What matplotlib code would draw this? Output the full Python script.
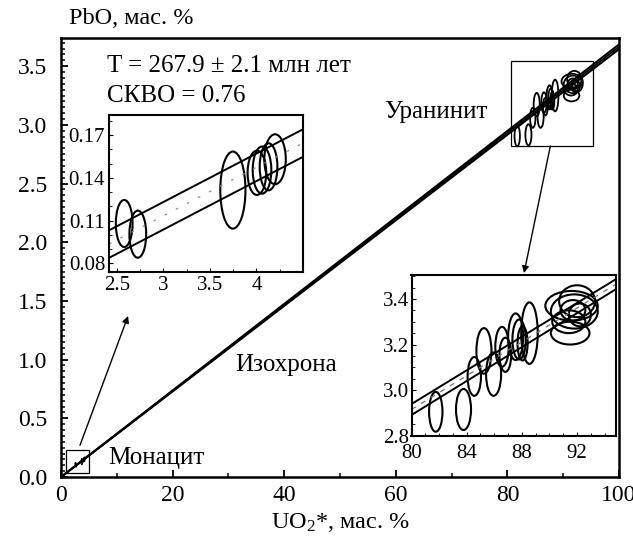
import matplotlib
matplotlib.use("Agg")
import matplotlib.pyplot as plt
from matplotlib.patches import Ellipse, Rectangle
from matplotlib.ticker import MultipleLocator, FormatStrFormatter

plt.rcParams['font.family'] = ['Liberation Serif', 'DejaVu Serif']
plt.rcParams['mathtext.fontset'] = 'custom'
plt.rcParams['mathtext.rm'] = 'Liberation Serif'
plt.rcParams['mathtext.it'] = 'Liberation Serif:italic'

# ---- data ----
# isochron (main plot) : x endpoints, center / envelope values
iso_x = [0, 100]
iso_center = [0.0, 3.665]
iso_upper = [0.0, 3.685]
iso_lower = [0.0, 3.645]

# monazite analyses (ellipse centers and sizes)
mon_x = [2.58, 2.726, 3.747, 4.005, 4.06, 4.13, 4.20]
mon_y = [0.108, 0.1005, 0.1314, 0.1435, 0.1454, 0.1477, 0.153]
mon_w = [0.18, 0.18, 0.27, 0.20, 0.20, 0.19, 0.23]
mon_h = [0.033, 0.033, 0.054, 0.031, 0.033, 0.033, 0.035]
# monazite inset envelope lines
mon_env_x = [2.42, 4.5]
mon_env_upper = [0.1033, 0.174]
mon_env_lower = [0.084, 0.1547]

# uraninite analyses
ura_x = [81.76, 83.77, 84.55, 85.25, 85.95, 86.56, 86.8, 87.55, 87.8, 88.05, 88.55,
         91.5, 91.6, 91.8, 91.4, 92.0, 91.7, 92.2]
ura_y = [2.905, 2.915, 3.06, 3.172, 3.07, 3.19, 3.155, 3.234, 3.222, 3.205, 3.25,
         3.25, 3.37, 3.345, 3.30, 3.39, 3.35, 3.33]
ura_w = [0.97, 1.09, 0.97, 1.09, 1.09, 0.97, 0.85, 1.09, 0.97, 0.73, 1.2,
         2.8, 3.8, 3.4, 2.4, 2.6, 1.8, 1.6]
ura_h = [0.175, 0.18, 0.17, 0.2, 0.19, 0.175, 0.15, 0.205, 0.175, 0.15, 0.27,
         0.10, 0.13, 0.15, 0.10, 0.14, 0.09, 0.10]
# uraninite inset envelope lines
ura_env_x = [80, 94.8]
ura_env_upper = [2.939, 3.486]
ura_env_lower = [2.891, 3.442]

W, H = 633, 538
fig = plt.figure(figsize=(W / 100, H / 100), dpi=100)

def fr(l, t, r, b):
    return [l / W, 1 - b / H, (r - l) / W, (b - t) / H]

ax = fig.add_axes(fr(61, 38, 619, 477))
ax.set_xlim(0, 100)
ax.set_ylim(0, 3.74)
for s in ax.spines.values():
    s.set_linewidth(1.8)
ax.plot(iso_x, iso_upper, color='black', lw=1.5)
ax.plot(iso_x, iso_lower, color='black', lw=1.5)
ax.plot(iso_x, iso_center, color='black', lw=1.2)
for x, y, w, h in zip(ura_x, ura_y, ura_w, ura_h):
    ax.add_patch(Ellipse((x, y), w, h, fill=False, ec='black', lw=1.3))
for x, y, w, h in zip(mon_x, mon_y, mon_w, mon_h):
    ax.add_patch(Ellipse((x, y), w, h, fill=False, ec='black', lw=0.7))
# zoom boxes
ax.add_patch(Rectangle((0.9, 0.03), 4.2, 0.2, fill=False, ec='black', lw=0.9))
ax.add_patch(Rectangle((80.6, 2.82), 14.7, 0.72, fill=False, ec='black', lw=0.9))

ax.xaxis.set_major_locator(MultipleLocator(20))
ax.xaxis.set_minor_locator(MultipleLocator(10))
ax.yaxis.set_major_locator(MultipleLocator(0.5))
ax.yaxis.set_minor_locator(MultipleLocator(0.05))
ax.yaxis.set_major_formatter(FormatStrFormatter('%.1f'))
ax.tick_params(which='both', direction='in', top=False, right=False, labelsize=17)
ax.tick_params(axis='y', pad=10)
ax.tick_params(axis='x', pad=6)
ax.tick_params(which='major', length=5, width=1.3)
ax.tick_params(which='minor', length=3, width=1.1)
ax.set_xlabel('UO$_2$*, мас. %', fontsize=17.5, labelpad=3)
fig.text(69 / W, 1 - 19 / H, 'PbO, мас. %', fontsize=17.5, va='center', ha='left')

ax.text(8.25, 3.50, 'T = 267.9 ± 2.1 млн лет', fontsize=18, va='center')
ax.text(8.25, 3.25, 'СКВО = 0.76', fontsize=18, va='center')
ax.text(58.0, 3.11, 'Уранинит', fontsize=18, va='center')
ax.text(31.2, 0.95, 'Изохрона', fontsize=18, va='center')
ax.text(8.4, 0.16, 'Монацит', fontsize=18, va='center')

# ---- monazite inset ----
a1 = fig.add_axes(fr(109.3, 115, 303, 272))
a1.set_xlim(2.42, 4.5)
a1.set_ylim(0.074, 0.184)
a1.plot(mon_env_x, mon_env_upper, color='black', lw=1.4)
a1.plot(mon_env_x, mon_env_lower, color='black', lw=1.4)
a1.plot(mon_env_x, [(u + l) / 2 for u, l in zip(mon_env_upper, mon_env_lower)],
        color='0.55', lw=0.9, dashes=(2, 8))
for x, y, w, h in zip(mon_x, mon_y, mon_w, mon_h):
    a1.add_patch(Ellipse((x, y), w, h, fill=False, ec='black', lw=1.5))
a1.set_xticks([2.5, 3, 3.5, 4])
a1.set_xticklabels(['2.5', '3', '3.5', '4'])
a1.xaxis.set_minor_locator(MultipleLocator(0.25))
a1.set_yticks([0.08, 0.11, 0.14, 0.17])
a1.yaxis.set_major_formatter(FormatStrFormatter('%.2f'))
a1.yaxis.set_minor_locator(MultipleLocator(0.01))
a1.tick_params(which='both', direction='in', labelsize=15, pad=3)
a1.tick_params(which='major', length=3)
a1.tick_params(which='minor', length=2)
for s in a1.spines.values():
    s.set_linewidth(1.5)

# ---- uraninite inset ----
a2 = fig.add_axes(fr(411.5, 275, 615.7, 435.7))
a2.set_xlim(80, 94.8)
a2.set_ylim(2.8, 3.505)
a2.plot(ura_env_x, ura_env_upper, color='black', lw=1.4)
a2.plot(ura_env_x, ura_env_lower, color='black', lw=1.4)
a2.plot(ura_env_x, [(u + l) / 2 for u, l in zip(ura_env_upper, ura_env_lower)],
        color='0.45', lw=0.9, dashes=(4, 5))
for x, y, w, h in zip(ura_x, ura_y, ura_w, ura_h):
    a2.add_patch(Ellipse((x, y), w, h, fill=False, ec='black', lw=1.5))
a2.xaxis.set_major_locator(MultipleLocator(4))
a2.xaxis.set_minor_locator(MultipleLocator(1))
a2.yaxis.set_major_locator(MultipleLocator(0.2))
a2.yaxis.set_minor_locator(MultipleLocator(0.05))
a2.yaxis.set_major_formatter(FormatStrFormatter('%.1f'))
a2.tick_params(which='both', direction='in', labelsize=15)
a2.tick_params(axis='x', pad=6)
a2.tick_params(axis='y', pad=2)
a2.tick_params(which='major', length=3)
a2.tick_params(which='minor', length=2)
for s in a2.spines.values():
    s.set_linewidth(1.5)

# ---- arrows ----
arr = dict(arrowstyle='-|>', color='black', lw=1.0, mutation_scale=10, shrinkA=0, shrinkB=0)
ax.annotate('', xy=(0.097, -0.28), xycoords=a1.transAxes,
            xytext=(3.4, 0.27), textcoords='data', arrowprops=arr)
ax.annotate('', xy=(0.551, 1.012), xycoords=a2.transAxes,
            xytext=(87.7, 2.82), textcoords='data', arrowprops=arr)

fig.savefig('out.png', dpi=100)
